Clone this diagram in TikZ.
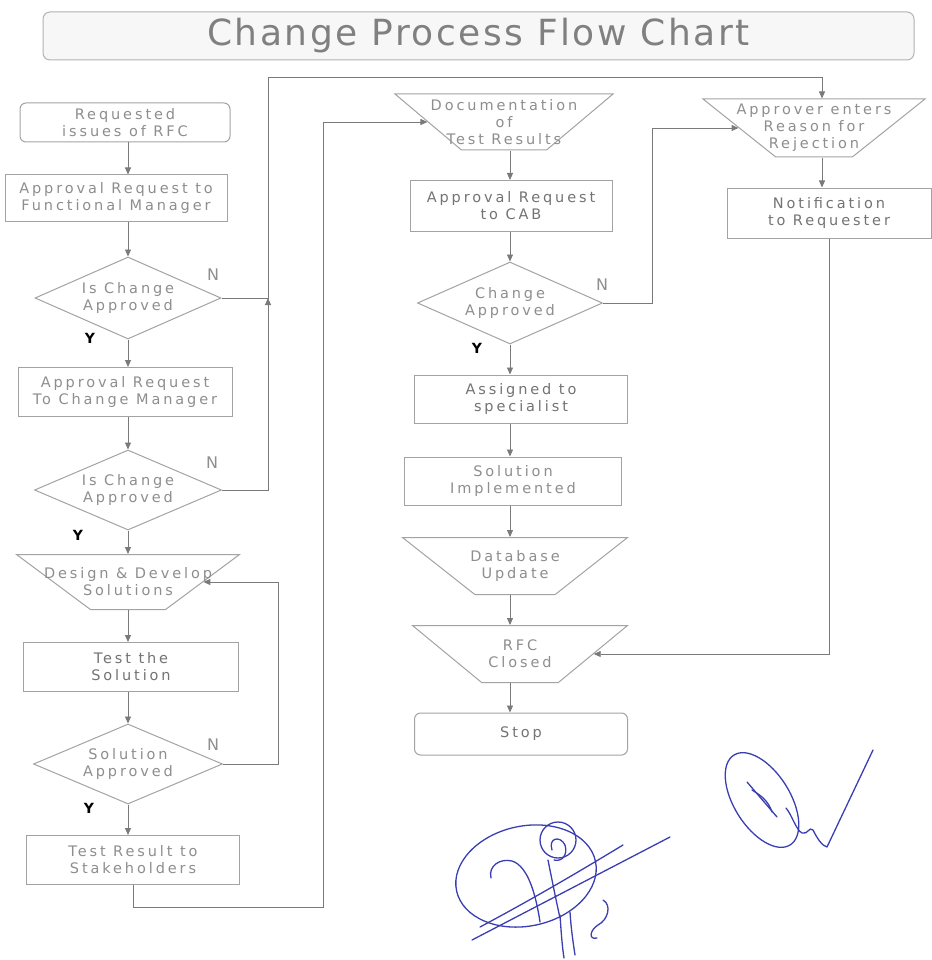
\documentclass[tikz,border=0pt]{standalone}
\usepackage{fontspec}
\setmainfont{DejaVu Sans}[LetterSpace=20]
\newfontfamily\titlefont{DejaVu Sans}[LetterSpace=7]
\newfontfamily\labfont{DejaVu Sans}
\usetikzlibrary{shapes.geometric,arrows.meta,calc}
\definecolor{linegray}{HTML}{7A7A7A}
\definecolor{boxgray}{HTML}{A3A3A3}
\definecolor{txtgray}{HTML}{8E8E8E}
\definecolor{txtdark}{HTML}{737373}
\definecolor{sigblue}{HTML}{3A3EB2}
\tikzset{
  shp/.style={draw=boxgray, line width=1pt, inner sep=1pt, fill=white},
  pbox/.style={shp, rectangle},
  rbox/.style={shp, rectangle, rounded corners=6pt},
  trap/.style={shp, trapezium, shape border rotate=180, trapezium stretches=true},
  dia/.style={shp, diamond},
  txtstyle/.style={text=txtgray, align=center, inner sep=0pt, font=\fontsize{14.5}{17}\selectfont},
  txt/.style={label={[txtstyle]center:#1}},
  dtxt/.style={label={[txtstyle,text=txtdark]center:#1}},
  arr/.style={draw=linegray, line width=0.9pt, -{Triangle[length=7pt,width=6pt]}},
  nlab/.style={text=txtgray, font=\labfont\fontsize{16}{16}\selectfont, inner sep=0pt},
  ylab/.style={text=black, font=\labfont\bfseries\fontsize{14}{14}\selectfont, inner sep=0pt},
  sig/.style={draw=sigblue, line width=1.3pt, line cap=round, line join=round}
}
\begin{document}
\begin{tikzpicture}[x=1pt,y=-1pt]
\useasboundingbox (0,0) rectangle (931,960);
% title
\node[rectangle, rounded corners=7pt, draw=gray!60, fill=gray!6, line width=1pt,
  minimum width=871, minimum height=48, inner sep=0pt, text=gray,
  font=\titlefont\fontsize{36}{36}\selectfont] (title) at (478.5,36) {Change Process Flow Chart};
% left column
\node[rbox, minimum width=210, minimum height=39, txt={Requested\\issues of RFC}] (n1) at (125,122.5) {};
\node[pbox, minimum width=222, minimum height=46, txt={Approval Request to\\Functional Manager}] (n2) at (116,198) {};
\node[dia, minimum width=186, minimum height=82, txt={Is Change\\Approved}] (d1) at (128,298) {};
\node[pbox, minimum width=214, minimum height=49, txt={Approval Request\\To Change Manager}] (n3) at (125,392) {};
\node[dia, minimum width=187, minimum height=80, txt={Is Change\\Approved}] (d2) at (128,490) {};
\node[trap, trapezium angle=45.5, minimum width=223, minimum height=55, txt={Design \& Develop\\Solutions}] (n4) at (128,582) {};
\node[pbox, minimum width=215, minimum height=49, dtxt={Test the\\Solution}] (n5) at (131,667) {};
\node[dia, minimum width=189, minimum height=80, txt={Solution\\Approved}] (d3) at (128,764) {};
\node[pbox, minimum width=213, minimum height=49, txt={Test Result to\\Stakeholders}] (n6) at (133,860) {};
% middle column
\node[trap, trapezium angle=52, minimum width=218, minimum height=56, txt={Documentation\\of\\Test Results}] (m1) at (504,122) {};
\node[pbox, minimum width=202, minimum height=51, dtxt={Approval Request\\to CAB}] (m2) at (511,206) {};
\node[dia, minimum width=185, minimum height=82, txt={Change\\Approved}] (md1) at (510,303) {};
\node[pbox, minimum width=213, minimum height=48, dtxt={Assigned to\\specialist}] (m3) at (521,399) {};
\node[pbox, minimum width=217, minimum height=48, txt={Solution\\Implemented}] (m4) at (513,481) {};
\node[trap, trapezium angle=48, minimum width=225, minimum height=57, txt={Database\\Update}] (m5) at (515,566) {};
\node[trap, trapezium angle=48, minimum width=215, minimum height=57, txt={RFC\\Closed}] (m6) at (520,654) {};
\node[rbox, minimum width=213, minimum height=42, dtxt={Stop}] (m7) at (521,734) {};
% right column
\node[trap, trapezium angle=46.5, minimum width=222, minimum height=58, txt={Approver enters\\Reason for\\Rejection}] (r1) at (814,128) {};
\node[pbox, minimum width=204, minimum height=50, dtxt={Notification\\to Requester}] (r2) at (829,213) {};
% helper coordinates
\coordinate (j1) at (268,298);
\coordinate (t1) at (822,77);
\coordinate (k2) at (652,128);
\coordinate (k3) at (278,582);
\coordinate (b1) at (323,907);
% left column arrows
\draw[arr] (n1.south -| d1) -- (n2.north -| d1);
\draw[arr] (n2.south -| d1) -- (d1.north);
\draw[arr] (d1.south) -- (n3.north -| d1);
\draw[arr] (n3.south -| d1) -- (d2.north);
\draw[arr] (d2.south) -- (n4.north -| d2);
\draw[arr] (n4.south -| d3) -- (n5.north -| d3);
\draw[arr] (n5.south -| d3) -- (d3.north);
\draw[arr] (d3.south) -- (n6.north -| d3);
% middle column arrows
\draw[arr] (m1.south -| md1) -- (m2.north -| md1);
\draw[arr] (m2.south -| md1) -- (md1.north);
\draw[arr] (md1.south) -- (m3.north -| md1);
\draw[arr] (m3.south -| md1) -- (m4.north -| md1);
\draw[arr] (m4.south -| md1) -- (m5.north -| md1);
\draw[arr] (m5.south -| md1) -- (m6.north -| md1);
\draw[arr] (m6.south -| md1) -- (m7.north -| md1);
% right column
\draw[arr] (r1.south -| t1) -- (r2.north -| t1);
% loops
\draw[arr] (d1.east) -- (j1) |- (t1) -- (r1.north -| t1);
\draw[arr] (d2.east) -| (j1);
\draw[arr] (d3.east) -| (k3) -- (n4.east);
\draw[arr] (n6.south) |- (b1) |- (m1.west);
\draw[arr] (md1.east) -| (k2) -- (r1.west);
\draw[arr] (r2.south) |- (m6.east);
% labels
\node[nlab] (nd1) at (213,275) {N};
\node[nlab] (nd2) at (212,463) {N};
\node[nlab] (nd3) at (213,745) {N};
\node[nlab] (nmd) at (602,285) {N};
\node[ylab] (yd1) at (90,338) {Y};
\node[ylab] (yd2) at (78,535) {Y};
\node[ylab] (yd3) at (89,808) {Y};
\node[ylab] (ymd) at (477,348) {Y};
% signatures
\draw[sig, rotate around={-58:(762,800)}] (762,800) ellipse (53 and 28);
\draw[sig] (747,782) -- (777,817);
\draw[sig] (752,790) .. controls (760,795) and (768,800) .. (772,812);
\draw[sig] (786,808) .. controls (792,815) and (796,830) .. (802,833) .. controls (808,835) and (809,826) .. (813,830) .. controls (817,838) and (822,846) .. (827,847) -- (873,750);
\draw[sig, rotate around={12:(526,876)}] (526,876) ellipse (71 and 50);
\draw[sig] (558,840) circle (18);
\draw[sig] (472,940) -- (670,837);
\draw[sig] (480,927) .. controls (540,895) and (590,865) .. (623,845);
\draw[sig] (491,878) .. controls (488,866) and (500,858) .. (512,861) .. controls (528,866) and (536,895) .. (540,922);
\draw[sig] (552,850) .. controls (548,838) and (560,835) .. (565,845) .. controls (568,855) and (562,862) .. (554,860);
\draw[sig] (548,860) .. controls (552,880) and (556,900) .. (560,918);
\draw[sig] (560,915) .. controls (561,930) and (562,945) .. (564,958);
\draw[sig] (570,912) .. controls (571,928) and (573,942) .. (575,955);
\draw[sig] (603,900) .. controls (612,905) and (608,920) .. (598,925) .. controls (590,930) and (588,940) .. (597,938);
\end{tikzpicture}
\end{document}
